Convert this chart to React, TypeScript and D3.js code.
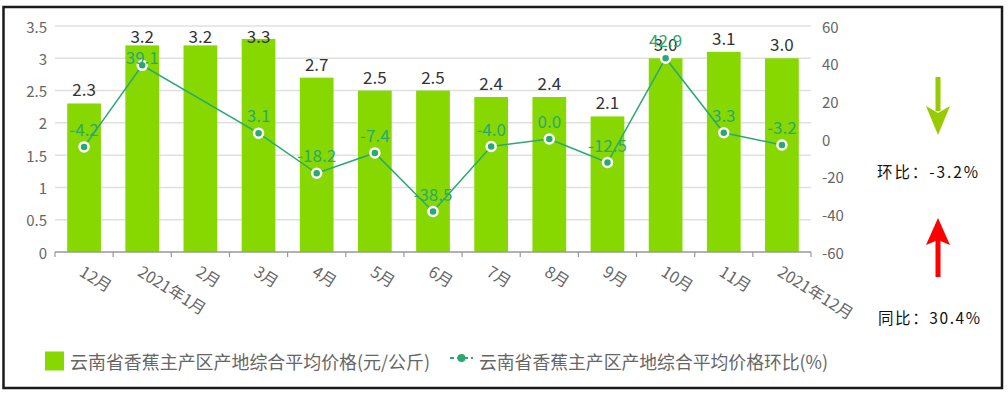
import { useEffect, useRef } from 'react'
import * as d3 from 'd3'

const months = ['12月', '2021年1月', '2月', '3月', '4月', '5月', '6月', '7月', '8月', '9月', '10月', '11月', '2021年12月']
const prices = [2.3, 3.2, 3.2, 3.3, 2.7, 2.5, 2.5, 2.4, 2.4, 2.1, 3.0, 3.1, 3.0]
const momChange: (number | null)[] = [-4.2, 39.1, null, 3.1, -18.2, -7.4, -38.5, -4.0, 0.0, -12.5, 42.9, 3.3, -3.2]
const leftTicks = [0, 0.5, 1, 1.5, 2, 2.5, 3, 3.5]
const rightTicks = [-60, -40, -20, 0, 20, 40, 60]
const seriesNames = ['云南省香蕉主产区产地综合平均价格(元/公斤)', '云南省香蕉主产区产地综合平均价格环比(%)']
const summary = { mom: '环比：-3.2%', yoy: '同比：30.4%' }

const FONT = '"Noto Sans CJK SC", "Noto Sans", sans-serif'
const BAR = '#86d800'
const LINE = '#2ba871'

export default function App() {
  const svgRef = useRef<SVGSVGElement>(null)

  useEffect(() => {
    if (!svgRef.current) return
    const width = 1008
    const height = 396
    const margin = { top: 26, left: 55, right: 197, bottom: 144 }
    const innerW = width - margin.left - margin.right
    const innerH = height - margin.top - margin.bottom
    const labelTopLimit = 17 // bar labels stay inside the chart area

    const svg = d3.select(svgRef.current)
    svg.selectAll('*').remove()
    svg.attr('width', width).attr('height', height)
      .style('font-family', FONT)

    svg.append('rect').attr('width', width).attr('height', height).attr('fill', '#fff')
    // outer frame
    svg.append('rect')
      .attr('x', 3.5).attr('y', 7).attr('width', 998.5).attr('height', 381)
      .attr('fill', 'none').attr('stroke', '#1a1a1a').attr('stroke-width', 2.5)

    const g = svg.append('g').attr('transform', `translate(${margin.left},${margin.top})`)

    const x = d3.scaleBand().domain(months).range([0, innerW]).paddingInner(0).paddingOuter(0)
    const y = d3.scaleLinear().domain([0, 3.5]).range([innerH, 0])
    const y2 = d3.scaleLinear().domain([-60, 60]).range([innerH, 0])
    const bw = x.bandwidth() * 0.58
    const cxOf = (i: number) => (x(months[i]) ?? 0) + x.bandwidth() / 2

    // grid
    g.append('g')
      .selectAll('line')
      .data(leftTicks.filter(t => t > 0))
      .join('line')
      .attr('x1', 0).attr('x2', innerW)
      .attr('y1', d => y(d)).attr('y2', d => y(d))
      .attr('stroke', '#e0e0e0').attr('stroke-width', 1.5)

    // left axis labels
    g.append('g')
      .selectAll('text')
      .data(leftTicks)
      .join('text')
      .attr('x', -8).attr('y', d => y(d))
      .attr('text-anchor', 'end').attr('dominant-baseline', 'central')
      .attr('font-size', 15).attr('fill', '#666')
      .text(d => String(d))

    // right axis labels
    g.append('g')
      .selectAll('text')
      .data(rightTicks)
      .join('text')
      .attr('x', innerW + 11).attr('y', d => y2(d))
      .attr('text-anchor', 'start').attr('dominant-baseline', 'central')
      .attr('font-size', 15).attr('fill', '#666')
      .text(d => String(d))

    // bars
    g.append('g')
      .selectAll('rect')
      .data(prices)
      .join('rect')
      .attr('x', (_, i) => cxOf(i) - bw / 2)
      .attr('y', d => y(d))
      .attr('width', bw)
      .attr('height', d => innerH - y(d))
      .attr('fill', BAR)

    // x axis line + ticks
    g.append('line')
      .attr('x1', 0).attr('x2', innerW).attr('y1', innerH).attr('y2', innerH)
      .attr('stroke', '#999').attr('stroke-width', 1.5)
    g.append('g')
      .selectAll('line')
      .data(d3.range(months.length + 1))
      .join('line')
      .attr('x1', i => i * x.step()).attr('x2', i => i * x.step())
      .attr('y1', innerH).attr('y2', innerH + 5)
      .attr('stroke', '#999').attr('stroke-width', 1.2)

    // x labels
    months.forEach((m, i) => {
      g.append('text')
        .attr('transform', `translate(${cxOf(i) - 2},${innerH + 17}) rotate(32)`)
        .attr('text-anchor', 'start').attr('dominant-baseline', 'central')
        .attr('font-size', 16).attr('fill', '#666')
        .text(m)
    })

    // bar value labels (clamped to the top of the chart)
    const barLabelY = prices.map(d => Math.max(y(d) - 7, labelTopLimit))
    const clamped = prices.map(d => y(d) - 7 < labelTopLimit)
    g.append('g')
      .selectAll('text')
      .data(prices)
      .join('text')
      .attr('x', (_, i) => cxOf(i))
      .attr('y', (_, i) => barLabelY[i])
      .attr('text-anchor', 'middle')
      .attr('font-size', 17).attr('fill', '#333')
      .text(d => d.toFixed(1))

    // line
    const pts = momChange
      .map((v, i) => ({ v, i, cx: cxOf(i) }))
      .filter(p => p.v !== null) as { v: number; i: number; cx: number }[]

    const line = d3.line<{ v: number; cx: number }>().x(p => p.cx).y(p => y2(p.v))
    g.append('path')
      .datum(pts)
      .attr('d', line)
      .attr('fill', 'none').attr('stroke', LINE).attr('stroke-width', 1.5)

    g.append('g')
      .selectAll('circle')
      .data(pts)
      .join('circle')
      .attr('cx', p => p.cx).attr('cy', p => y2(p.v))
      .attr('r', 4.5)
      .attr('fill', LINE).attr('stroke', '#fff').attr('stroke-width', 2.5)

    // line labels: pushed below a clamped bar label when they collide
    const lineLabelY = (p: { v: number; i: number }) => {
      const base = y2(p.v) - 11
      if (clamped[p.i] && base - 13 < barLabelY[p.i] + 3) return barLabelY[p.i] + 21
      return base
    }
    g.append('g')
      .selectAll('text')
      .data(pts)
      .join('text')
      .attr('x', p => p.cx).attr('y', p => lineLabelY(p))
      .attr('text-anchor', 'middle')
      .attr('font-size', 17).attr('fill', LINE)
      .text(p => p.v.toFixed(1))

    // legend
    const lg = svg.append('g').attr('transform', 'translate(0,361)')
    lg.append('rect').attr('x', 45).attr('y', -9.5).attr('width', 19).attr('height', 19).attr('fill', BAR)
    lg.append('text').attr('x', 70).attr('y', 0)
      .attr('dominant-baseline', 'central').attr('font-size', 18).attr('fill', '#666')
      .attr('textLength', 360).attr('lengthAdjust', 'spacingAndGlyphs')
      .text(seriesNames[0])
    lg.append('line').attr('x1', 450).attr('x2', 473).attr('y1', -3).attr('y2', -3)
      .attr('stroke', LINE).attr('stroke-width', 2).attr('stroke-dasharray', '4 3')
    lg.append('circle').attr('cx', 461.5).attr('cy', -3).attr('r', 4).attr('fill', LINE)
    lg.append('text').attr('x', 479).attr('y', 0)
      .attr('dominant-baseline', 'central').attr('font-size', 18).attr('fill', '#666')
      .attr('textLength', 349).attr('lengthAdjust', 'spacingAndGlyphs')
      .text(seriesNames[1])

    // side annotations: arrows + text
    svg.append('rect').attr('x', 935.5).attr('y', 77).attr('width', 5).attr('height', 34).attr('fill', '#97cb00')
    svg.append('path').attr('d', 'M926,106 L938,113 L950,106 L938,135 Z').attr('fill', '#97cb00')
    svg.append('text').attr('x', 877).attr('y', 178).attr('font-size', 15.5).attr('fill', '#111')
      .attr('textLength', 101).attr('lengthAdjust', 'spacing')
      .text(summary.mom)

    svg.append('rect').attr('x', 935.5).attr('y', 240).attr('width', 5).attr('height', 37).attr('fill', '#ff0000')
    svg.append('path').attr('d', 'M938,218 L950,245 L938,240 L926,245 Z').attr('fill', '#ff0000')
    svg.append('text').attr('x', 878).attr('y', 324).attr('font-size', 15.5).attr('fill', '#111')
      .attr('textLength', 102).attr('lengthAdjust', 'spacing')
      .text(summary.yoy)
  }, [])

  return <svg ref={svgRef} style={{ position: 'absolute', left: 0, top: 0 }} />
}
